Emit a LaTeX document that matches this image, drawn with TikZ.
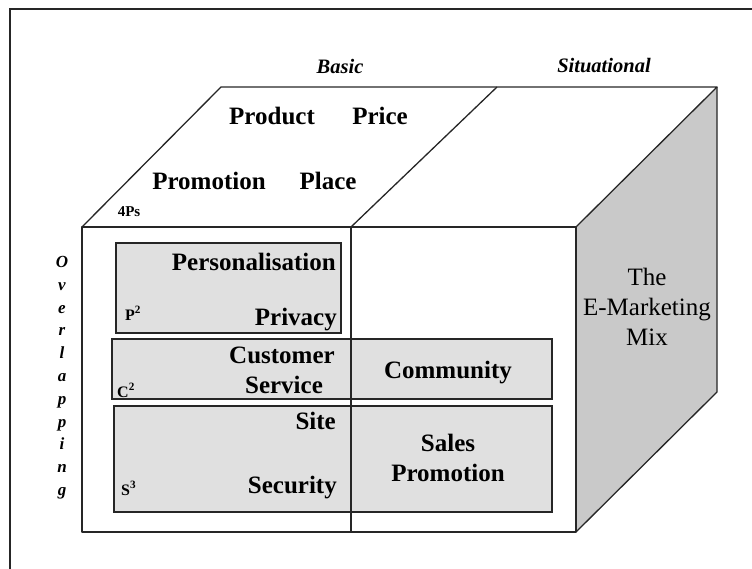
\documentclass[tikz,border=0pt]{standalone}
\usepackage{fontspec}
\setmainfont{Liberation Serif}
\begin{document}
\begin{tikzpicture}[x=1pt,y=-1pt,
  edge/.style={draw=black!85,line width=1.3pt,line join=round},
  boxfill/.style={fill=black!12,draw=black!85,line width=1.3pt},
  big/.style={font=\fontsize{25}{28}\selectfont\bfseries,inner sep=0pt,text height=17pt,text depth=6pt},
  reg/.style={font=\fontsize{25}{28}\selectfont,inner sep=0pt,text height=17pt,text depth=6pt},
  head/.style={font=\fontsize{20.5}{24}\selectfont\bfseries\itshape,inner sep=0pt},
  tag/.style={font=\fontsize{16}{18}\selectfont\bfseries,inner sep=0pt,anchor=base west},
  vert/.style={font=\fontsize{17}{18}\selectfont\bfseries\itshape,inner sep=0pt,text height=11pt,text depth=4pt}]
\useasboundingbox (0,0) rectangle (752,569);
\begin{scope}
\clip (0,0) rectangle (752,569);
\draw[black!85,line width=1.2pt] (10,9) rectangle (800,620);
\end{scope}
% corners
\coordinate (fl) at (82,227);
\coordinate (fm) at (351,227);
\coordinate (fr) at (576,227);
\coordinate (bl) at (82,532);
\coordinate (bm) at (351,532);
\coordinate (br) at (576,532);
\coordinate (tl) at (221,87);
\coordinate (tm) at (497,87);
\coordinate (tr) at (717,87);
\coordinate (rb) at (717,392);
% right face
\path[fill=black!21] (fr) -- (tr) -- (rb) -- (br) -- cycle;
% inner boxes
\draw[boxfill] (116,243) rectangle (341,333);
\draw[boxfill] (112,339) rectangle (552,399);
\draw[boxfill] (114,406) rectangle (552,512);
% cube edges
\draw[edge] (fl) rectangle (br);
\draw[edge] (fm) -- (bm);
\draw[edge] (fl) -- (tl) -- (tr) -- (fr);
\draw[edge] (fm) -- (tm);
\draw[edge] (tr) -- (rb) -- (br);
% headings
\node[head] (basic) at (340,66) {Basic};
\node[head] (situ) at (604,66) {Situational};
% top face
\node[big] (product) at (272,119) {Product};
\node[big] (price) at (380,119) {Price};
\node[big] (promo) at (209,184) {Promotion};
\node[big] (place) at (328,184) {Place};
\node[font=\fontsize{15}{16}\selectfont\bfseries,inner sep=0pt] (fourps) at (129,212) {4Ps};
% P2 box
\node[big,anchor=east] (pers) at (336,265) {Personalisation};
\node[big,anchor=east] (priv) at (337,320) {Privacy};
\node[tag] (p2) at (125,320) {P\textsuperscript{2}};
% C2 box
\node[big] (cust) at (282,358) {Customer};
\node[big] (serv) at (284,388) {Service};
\node[tag] (c2) at (117,397) {C\textsuperscript{2}};
\node[big] (comm) at (448,373) {Community};
% S3 box
\node[big,anchor=east] (site) at (336,424) {Site};
\node[big,anchor=east] (secu) at (337,488) {Security};
\node[tag] (s3) at (121,495) {S\textsuperscript{3}};
\node[big] (sales) at (448,446) {Sales};
\node[big] (spromo) at (448,476) {Promotion};
% right face text
\node[reg] (the) at (647,280) {The};
\node[reg] (emk) at (647,310) {E-Marketing};
\node[reg] (mix) at (647,340) {Mix};
% Overlapping
\foreach \l [count=\i from 0] in {O,v,e,r,l,a,p,p,i,n,g}
  \node[vert] (ov\i) at (62,264+22.8*\i) {\l};
\end{tikzpicture}
\end{document}
